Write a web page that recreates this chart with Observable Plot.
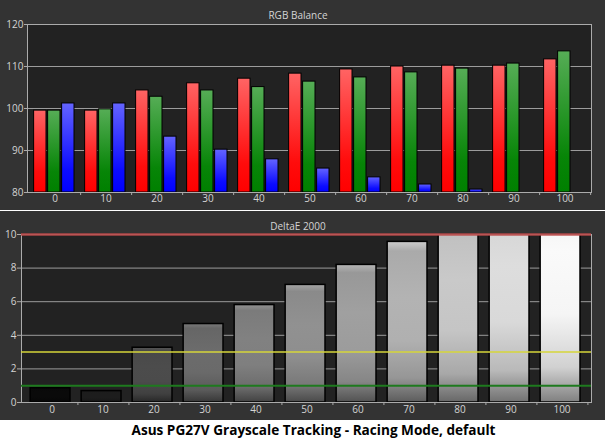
<!DOCTYPE html>
<html><head><meta charset="utf-8">
<script src="https://cdn.jsdelivr.net/npm/d3@7"></script>
<script src="https://cdn.jsdelivr.net/npm/@observablehq/plot@0.6"></script>
<style>
body{margin:0;background:#fff;width:605px;overflow:hidden;}
#top svg,#bottom svg{display:block;}
#gap{height:1px;background:#fff;}
#caption{height:21px;line-height:21px;font:bold 13.6px "Open Sans";text-align:center;padding-left:22px;color:#000;white-space:nowrap;}
</style></head><body>
<div id="top"></div><div id="gap"></div><div id="bottom"></div>
<div id="caption">Asus PG27V Grayscale Tracking - Racing Mode, default</div>
<script>
// ---- data ----
const categories = [0, 10, 20, 30, 40, 50, 60, 70, 80, 90, 100];
const red   = [99.5, 99.5, 104.3, 106.0, 107.1, 108.3, 109.3, 110.0, 110.2, 110.2, 111.7];
const green = [99.5, 99.8, 102.8, 104.3, 105.1, 106.4, 107.4, 108.6, 109.5, 110.7, 113.6];
const blue  = [101.2, 101.2, 93.3, 90.2, 87.9, 85.7, 83.6, 81.9, 80.7, null, null];
const deltaE = [0.85, 0.68, 3.26, 4.67, 5.8, 7.0, 8.19, 9.56, 11.2, 12.5, 13.8];
const rgbTicks = [80, 90, 100, 110, 120];
const rgbGrid = [90, 100, 110, 120];
const deTicks = [0, 2, 4, 6, 8, 10];
const deGrid = [2, 4, 6, 8];
const deLimitHigh = 10, deLimitMid = 3, deLimitLow = 1;
const rgbTitle = "RGB Balance";
const deTitle = "DeltaE 2000";

// ---- styles ----
const grayBase = [10, 30, 78, 110, 132, 148, 163, 183, 205, 226, 255];
const panelBg = "#333333", plotBg = "#222222", gridC = "#9c9c9c", axisC = "#ababab", textC = "#d4d4d4";
const font = "Open Sans";

function addDefs(svg, grads) {
  const defs = d3.select(svg).insert("defs", ":first-child");
  for (const {id, stops} of grads) {
    const g = defs.append("linearGradient").attr("id", id)
      .attr("x1", 0).attr("y1", 0).attr("x2", 0).attr("y2", 1);
    for (const [o, c] of stops) g.append("stop").attr("offset", o).attr("stop-color", c);
  }
}

// ---- top chart ----
{
  const W = 605, H = 210, ml = 27, mr = 14, mt = 24, mb = 18;
  const step = (W - ml - mr) / categories.length;
  const frameH = H - mt - mb;
  const rows = (arr) => categories.map((c, i) => ({cat: c, v: arr[i]})).filter(d => d.v != null);
  const bw = 0.247, gapF = 0.026, left0 = 0.09;
  const inset = (k) => ({insetLeft: step * (left0 + k * (bw + gapF)), insetRight: step * (1 - (left0 + k * (bw + gapF) + bw))});
  const svg = Plot.plot({
    width: W, height: H, marginLeft: ml, marginRight: mr, marginTop: mt, marginBottom: mb,
    style: {background: panelBg, color: textC, fontFamily: font, fontSize: "10px"},
    x: {type: "band", domain: categories, padding: 0, axis: null},
    y: {domain: [80, 120], axis: null},
    marks: [
      Plot.frame({fill: plotBg}),
      Plot.ruleY(rgbGrid, {stroke: gridC}),
      Plot.barY(rows(red), {x: "cat", y1: 80, y2: "v", fill: "url(#gR)", stroke: "#000", strokeWidth: 1, clip: true, ...inset(0)}),
      Plot.barY(rows(green), {x: "cat", y1: 80, y2: "v", fill: "url(#gG)", stroke: "#000", strokeWidth: 1, clip: true, ...inset(1)}),
      Plot.barY(rows(blue), {x: "cat", y1: 80, y2: "v", fill: "url(#gB)", stroke: "#000", strokeWidth: 1, clip: true, ...inset(2)}),
      Plot.frame({stroke: axisC}),
      Plot.axisY(rgbTicks, {tickSize: 3, tickPadding: 1, stroke: axisC, fill: textC, label: null}),
      Plot.axisX(categories, {tickSize: 0, tickPadding: 2, fill: textC, label: null}),
      Plot.tickX(categories, {x: d => d, dx: step / 2, insetTop: frameH - 3, dy: 3, stroke: axisC}),
      Plot.text([rgbTitle], {frameAnchor: "top", lineAnchor: "middle", dy: -9, dx: -11.5, fill: textC, fontSize: 10})
    ]
  });
  addDefs(svg, [
    {id: "gR", stops: [[0, "#ff6464"], [0.75, "#ff0c0c"], [1, "#ff0000"]]},
    {id: "gG", stops: [[0, "#56ad56"], [0.75, "#078507"], [1, "#008000"]]},
    {id: "gB", stops: [[0, "#6464ff"], [0.75, "#0c0cff"], [1, "#0000ff"]]}
  ]);
  document.getElementById("top").append(svg);
}

// ---- bottom chart ----
{
  const W = 605, H = 209, ml = 21, mr = 14, mt = 23, mb = 18;
  const step = (W - ml - mr) / categories.length;
  const frameH = H - mt - mb;
  const rows = categories.map((c, i) => ({cat: c, v: deltaE[i]}));
  const svg = Plot.plot({
    width: W, height: H, marginLeft: ml, marginRight: mr, marginTop: mt, marginBottom: mb,
    style: {background: panelBg, color: textC, fontFamily: font, fontSize: "10px"},
    x: {type: "band", domain: categories, padding: 0, axis: null},
    y: {domain: [0, 10], axis: null},
    color: {type: "identity"},
    marks: [
      Plot.frame({fill: plotBg}),
      Plot.ruleY(deGrid, {stroke: gridC}),
      Plot.barY(rows, {x: "cat", y1: 0, y2: "v", fill: d => `url(#gray${d.cat})`, stroke: "#000", strokeWidth: 1.5, clip: true, insetLeft: step * 0.08, insetRight: step * 0.135}),
      Plot.frame({stroke: axisC}),
      Plot.ruleY([deLimitLow], {stroke: "#1e7a1e", strokeWidth: 2}),
      Plot.ruleY([deLimitMid], {stroke: "#d6d63a", strokeWidth: 1.5}),
      Plot.ruleY([deLimitHigh], {stroke: "#bb4a4a", strokeWidth: 2.5, strokeOpacity: 0.9}),
      Plot.axisY(deTicks, {tickSize: 4, tickPadding: 1, stroke: axisC, fill: textC, label: null}),
      Plot.axisX(categories, {tickSize: 0, tickPadding: 3, fill: textC, label: null}),
      Plot.tickX(categories, {x: d => d, dx: step / 2, insetTop: frameH - 3, dy: 3, stroke: axisC}),
      Plot.text([deTitle], {frameAnchor: "top", lineAnchor: "middle", dy: -8, dx: -8.5, fill: textC, fontSize: 10})
    ]
  });
  const g = (c, f) => { const v = Math.max(0, Math.min(255, Math.round(c * f))); return `rgb(${v},${v},${v})`; };
  addDefs(svg, categories.map((cat, i) => {
    const c = grayBase[i];
    return {id: `gray${cat}`, stops: [[0, g(c, 1.12)], [0.06, g(c, 0.93)], [0.35, g(c, 0.98)], [0.62, g(c, 0.96)], [0.85, g(c, 0.82)], [1, g(c, 0.5)]]};
  }));
  document.getElementById("bottom").append(svg);
}
</script>
</body></html>
